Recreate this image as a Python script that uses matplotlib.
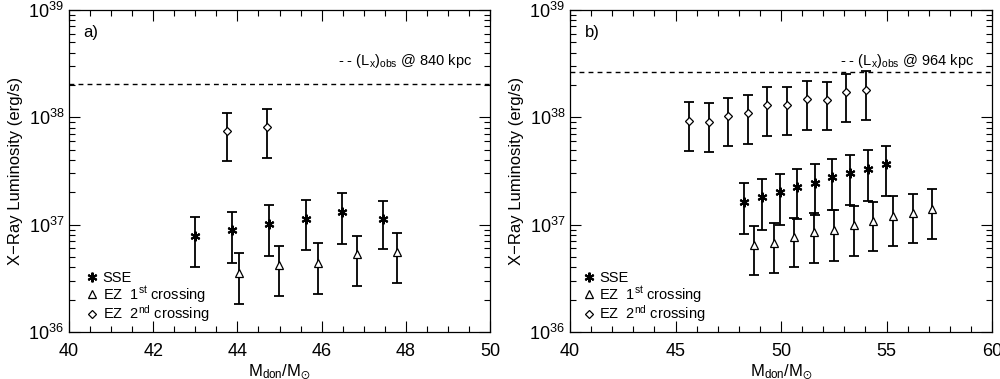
import numpy as np
import matplotlib.pyplot as plt
from matplotlib.ticker import MultipleLocator, LogLocator, NullFormatter

plt.rcParams['font.family'] = ['Liberation Sans', 'DejaVu Sans']
plt.rcParams['mathtext.fontset'] = 'custom'
plt.rcParams['mathtext.rm'] = 'Liberation Sans'
plt.rcParams['mathtext.it'] = 'Liberation Sans'

################################################
# panel a) data
################################################
a_sse_m = [43.0, 43.87, 44.75, 45.62, 46.49, 47.46]
a_sse_l = [7.9e36, 8.9e36, 1.02e37, 1.13e37, 1.32e37, 1.13e37]
a_sse_hi = [1.18e37, 1.32e37, 1.51e37, 1.69e37, 1.96e37, 1.66e37]
a_sse_lo = [4.0e36, 4.4e36, 5.1e36, 5.8e36, 6.6e36, 5.9e36]

a_ez1_m = [44.03, 44.98, 45.92, 46.85, 47.80]
a_ez1_l = [3.58e36, 4.2e36, 4.4e36, 5.3e36, 5.6e36]
a_ez1_hi = [5.4e36, 6.3e36, 6.7e36, 7.9e36, 8.4e36]
a_ez1_lo = [1.82e36, 2.17e36, 2.28e36, 2.7e36, 2.87e36]

a_ez2_m = [43.76, 44.71]
a_ez2_l = [7.5e37, 8.05e37]
a_ez2_hi = [1.1e38, 1.19e38]
a_ez2_lo = [3.9e37, 4.17e37]

a_obs = 2.03e38

################################################
# panel b) data
################################################
b_sse_m = [48.24, 49.09, 49.93, 50.77, 51.60, 52.44, 53.28, 54.12, 54.96]
b_sse_l = [1.62e37, 1.8e37, 2.0e37, 2.22e37, 2.44e37, 2.75e37, 3.02e37, 3.31e37, 3.64e37]
b_sse_hi = [2.42e37, 2.67e37, 2.98e37, 3.29e37, 3.64e37, 4.11e37, 4.48e37, 4.95e37, 5.43e37]
b_sse_lo = [8.15e36, 9.0e36, 1.0e37, 1.12e37, 1.24e37, 1.37e37, 1.52e37, 1.67e37, 1.83e37]

b_ez1_m = [48.74, 49.68, 50.61, 51.55, 52.49, 53.44, 54.38, 55.32, 56.25, 57.14]
b_ez1_l = [6.5e36, 6.8e36, 7.6e36, 8.6e36, 8.9e36, 9.9e36, 1.09e37, 1.21e37, 1.29e37, 1.40e37]
b_ez1_hi = [9.8e36, 1.04e37, 1.15e37, 1.29e37, 1.36e37, 1.48e37, 1.64e37, 1.83e37, 1.94e37, 2.13e37]
b_ez1_lo = [3.36e36, 3.56e36, 4.0e36, 4.4e36, 4.6e36, 5.1e36, 5.7e36, 6.3e36, 6.7e36, 7.3e36]

b_ez2_m = [45.64, 46.59, 47.51, 48.43, 49.36, 50.29, 51.23, 52.16, 53.07, 54.01]
b_ez2_l = [9.3e37, 9.1e37, 1.03e38, 1.09e38, 1.29e38, 1.31e38, 1.47e38, 1.45e38, 1.72e38, 1.81e38]
b_ez2_hi = [1.38e38, 1.35e38, 1.52e38, 1.6e38, 1.9e38, 1.93e38, 2.16e38, 2.13e38, 2.55e38, 2.68e38]
b_ez2_lo = [4.84e37, 4.74e37, 5.35e37, 5.6e37, 6.7e37, 6.8e37, 7.66e37, 7.55e37, 8.96e37, 9.4e37]

b_obs = 2.64e38

################################################

ASTER = (6, 2, 0)


def errs(l, lo, hi):
    l = np.array(l)
    return [l - np.array(lo), np.array(hi) - l]


def draw_panel(ax, sse, ez1, ez2, obs, xlim, major, minor, tag, dist, legx):
    kw = dict(fmt='none', ecolor='k', elinewidth=1.3, capsize=3.5, capthick=1.3)
    for m, l, lo, hi in (sse, ez1, ez2):
        ax.errorbar(m, l, yerr=errs(l, lo, hi), **kw)
    h1, = ax.plot(sse[0], sse[1], ls='none', marker=ASTER, ms=7, mec='k', mew=1.5)
    h2, = ax.plot(ez1[0], ez1[1], ls='none', marker='^', ms=6, mfc='white', mec='k', mew=0.9)
    h3, = ax.plot(ez2[0], ez2[1], ls='none', marker='D', ms=4.5, mfc='white', mec='k', mew=0.9)
    ax.axhline(obs, color='k', ls=(0, (3.5, 3)), lw=1)

    ax.set_yscale('log')
    ax.set_ylim(1e36, 1e39)
    ax.set_xlim(*xlim)
    ax.xaxis.set_major_locator(MultipleLocator(major))
    ax.xaxis.set_minor_locator(MultipleLocator(minor))
    ax.yaxis.set_major_locator(LogLocator(base=10, numticks=10))
    ax.yaxis.set_minor_locator(LogLocator(base=10, subs=np.arange(2, 10), numticks=10))
    ax.yaxis.set_minor_formatter(NullFormatter())
    ax.tick_params(which='both', direction='in', top=True, right=True, labelsize=13)
    ax.tick_params(which='major', length=8, width=0.8)
    ax.tick_params(which='minor', length=4, width=0.8)
    ax.tick_params(axis='x', pad=8)
    for s in ax.spines.values():
        s.set_linewidth(0.9)

    ax.set_xlabel(r'$\mathregular{M_{don}/M_{\odot}}$', fontsize=12, labelpad=2)
    ax.set_ylabel('X\u2212Ray Luminosity (erg/s)', fontsize=12)
    ax.text(0.035, 0.93, tag, transform=ax.transAxes, fontsize=12, va='center')
    ax.text(0.64, 0.84, r'- - (L$_\mathregular{x}$)$_\mathregular{obs}$ @ ' + dist + ' kpc',
            transform=ax.transAxes, fontsize=10.5, va='center')

    ax.legend([h1, h2, h3],
              ['SSE', r'EZ  1$^\mathregular{st}$ crossing', r'EZ  2$^\mathregular{nd}$ crossing'],
              loc='lower left', bbox_to_anchor=(legx, 0.025), frameon=False,
              handlelength=0.6, handletextpad=0.4, labelspacing=-0.1, fontsize=10.5,
              borderpad=0, borderaxespad=0)


fig = plt.figure(figsize=(10, 3.79), dpi=100)
ax1 = fig.add_axes([0.069, 0.124, 0.421, 0.850])
ax2 = fig.add_axes([0.570, 0.124, 0.422, 0.850])

draw_panel(ax1,
           (a_sse_m, a_sse_l, a_sse_lo, a_sse_hi),
           (a_ez1_m, a_ez1_l, a_ez1_lo, a_ez1_hi),
           (a_ez2_m, a_ez2_l, a_ez2_lo, a_ez2_hi),
           a_obs, (40, 50), 2, 0.5, 'a)', '840', 0.045)
draw_panel(ax2,
           (b_sse_m, b_sse_l, b_sse_lo, b_sse_hi),
           (b_ez1_m, b_ez1_l, b_ez1_lo, b_ez1_hi),
           (b_ez2_m, b_ez2_l, b_ez2_lo, b_ez2_hi),
           b_obs, (40, 60), 5, 1, 'b)', '964', 0.035)

fig.savefig('out.png', dpi=100)
